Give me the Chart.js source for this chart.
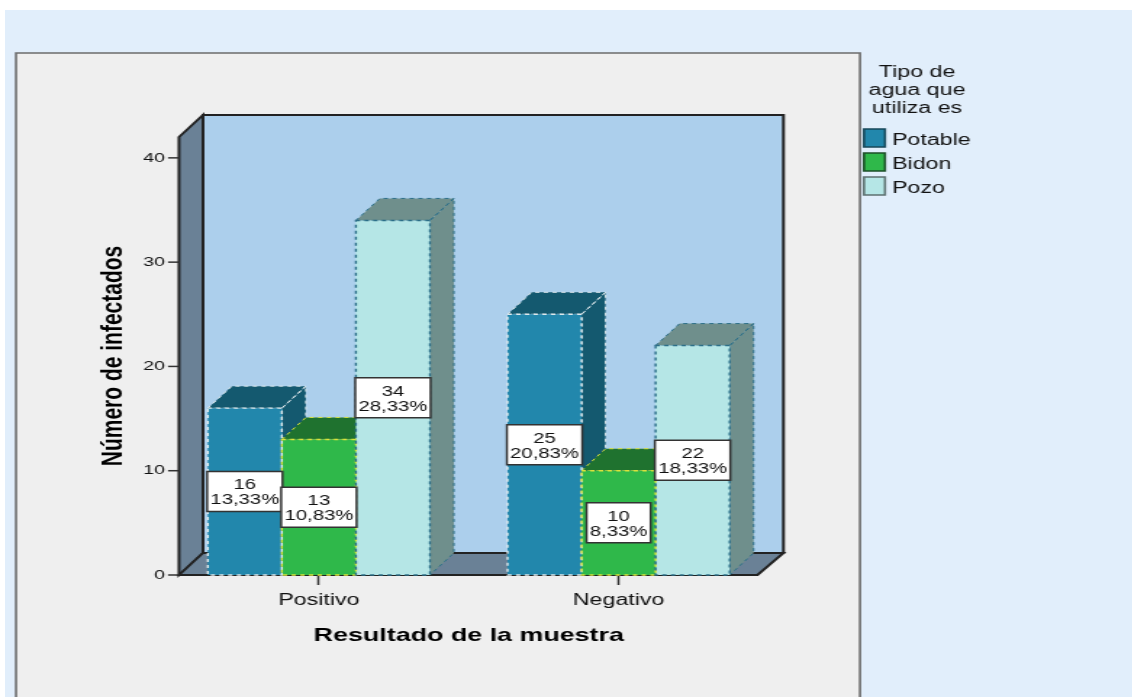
<!DOCTYPE html>
<html>
<head>
<meta charset="utf-8">
<title>Número de infectados</title>
<script src="https://cdn.jsdelivr.net/npm/chart.js@4/dist/chart.umd.min.js"></script>
<style>
    html, body { margin: 0; padding: 0; width: 1132px; height: 697px; overflow: hidden; background: #ffffff; }
    #page { position: absolute; left: 5px; top: 10px; right: 0; bottom: 0; background: #e1eefb; }
    #chart { position: absolute; left: 0; top: 0; transform-origin: 0 0; transform: scaleX(1.45); }
</style>
</head>
<body>
<div id="page"></div>
<canvas id="chart" width="781" height="697"></canvas>
<script>
const categories = ["Positivo", "Negativo"];
const seriesNames = ["Potable", "Bidon", "Pozo"];
const potable = [16, 25];
const bidon = [13, 10];
const pozo = [34, 22];
const potablePct = ["13,33%", "20,83%"];
const bidonPct = ["10,83%", "8,33%"];
const pozoPct = ["28,33%", "18,33%"];
const yTicks = [0, 10, 20, 30, 40];
const legendTitle = ["Tipo de", "agua que", "utiliza es"];

// everything is drawn narrow, the canvas gets stretched by css like the original picture
const SX = 1.45;
const px = v => v / SX;
const DX = px(24);
const DY = 22;

const frontColors = ["#2287ac", "#2fb84a", "#b5e6e6"];
const darkColors = ["#14596f", "#1f722f", "#6f8f8c"];
const edgeColors = ["#dfe9ec", "#dbe23c", "#2c6f88"];
const legendEdges = ["#17485a", "#1c4f28", "#5d7070"];
const percents = [potablePct, bidonPct, pozoPct];

function poly(ctx, pts, fill, stroke, width, dash) {
    ctx.save();
    ctx.beginPath();
    pts.forEach((p, i) => i ? ctx.lineTo(p[0], p[1]) : ctx.moveTo(p[0], p[1]));
    ctx.closePath();
    if (fill) {
        ctx.fillStyle = fill;
        ctx.fill();
    }
    if (stroke) {
        ctx.strokeStyle = stroke;
        ctx.lineWidth = width;
        ctx.setLineDash(dash || []);
        ctx.stroke();
    }
    ctx.restore();
}

const scene3d = {
    id: "scene3d",
    beforeDraw(chart) {
        const ctx = chart.ctx;
        // grey panel
        poly(ctx, [[px(16), 53], [px(860), 53], [px(860), 720], [px(16), 720]], "#efefef", "#6c6c6c", 1.6);

        const y = chart.scales.y;
        const area = chart.chartArea;
        const l = area.left + px(10);
        const r = area.right - px(11);
        const t = y.top;
        const b = y.bottom;

        // back wall, left wall, floor
        poly(ctx, [[l + DX, t - DY], [r + DX + px(2), t - DY], [r + DX + px(2), b - DY], [l + DX, b - DY]], "#accfec", "#222222", 2);
        poly(ctx, [[l, t], [l + DX, t - DY], [l + DX, b - DY], [l, b]], "#6a8196", "#222222", 2);
        poly(ctx, [[l, b], [l + DX, b - DY], [r + DX + px(2), b - DY], [r, b]], "#6a8196", "#222222", 2);

        // y tick marks
        ctx.save();
        ctx.strokeStyle = "#333333";
        ctx.lineWidth = 1.5;
        yTicks.forEach(v => {
            const yy = y.getPixelForValue(v);
            ctx.beginPath();
            ctx.moveTo(l - px(11), yy);
            ctx.lineTo(l, yy);
            ctx.stroke();
        });
        ctx.restore();
    },
    beforeDatasetsDraw(chart) {
        const ctx = chart.ctx;
        // tops and sides go first, left to right, the fronts cover them
        categories.forEach((c, i) => {
            chart.data.datasets.forEach((ds, s) => {
                const bar = chart.getDatasetMeta(s).data[i];
                const w = bar.width / 2;
                const x0 = bar.x - w;
                const x1 = bar.x + w;
                const dash = [3, 3];
                poly(ctx, [[x1, bar.y], [x1 + DX, bar.y - DY], [x1 + DX, bar.base - DY], [x1, bar.base]], darkColors[s], null);
                poly(ctx, [[x0, bar.y], [x0 + DX, bar.y - DY], [x1 + DX, bar.y - DY], [x1, bar.y]], darkColors[s], null);
                poly(ctx, [[x1, bar.y], [x1 + DX, bar.y - DY], [x1 + DX, bar.base - DY], [x1, bar.base]], null, edgeColors[s], 1, dash);
                poly(ctx, [[x0, bar.y], [x0 + DX, bar.y - DY], [x1 + DX, bar.y - DY], [x1, bar.y]], null, edgeColors[s], 1, dash);
            });
        });
    },
    afterDatasetsDraw(chart) {
        const ctx = chart.ctx;
        const y = chart.scales.y;

        // dashed front edges
        chart.data.datasets.forEach((ds, s) => {
            chart.getDatasetMeta(s).data.forEach(bar => {
                const w = bar.width / 2;
                poly(ctx, [[bar.x - w, bar.y], [bar.x + w, bar.y], [bar.x + w, bar.base], [bar.x - w, bar.base]], null, edgeColors[s], 1.4, [3, 3]);
            });
        });

        // value boxes in the middle of each bar
        ctx.save();
        ctx.font = "14px 'Liberation Sans'";
        ctx.textAlign = "center";
        ctx.textBaseline = "middle";
        chart.data.datasets.forEach((ds, s) => {
            chart.getDatasetMeta(s).data.forEach((bar, i) => {
                const cy = y.getPixelForValue(ds.data[i] / 2);
                const boxW = ctx.measureText(percents[s][i]).width + 4.5;
                poly(ctx, [[bar.x - boxW / 2, cy - 20], [bar.x + boxW / 2, cy - 20], [bar.x + boxW / 2, cy + 20], [bar.x - boxW / 2, cy + 20]], "#ffffff", "#333333", 1.5);
                ctx.fillStyle = "#111111";
                ctx.fillText(String(ds.data[i]), bar.x, cy - 6);
                ctx.fillText(percents[s][i], bar.x, cy + 9);
            });
        });
        ctx.restore();
    },
    afterDraw(chart) {
        const ctx = chart.ctx;
        // legend
        ctx.save();
        ctx.fillStyle = "#111111";
        ctx.font = "16px 'Liberation Sans'";
        ctx.textBaseline = "middle";
        ctx.textAlign = "center";
        const titleY = [73, 91, 109];
        legendTitle.forEach((line, i) => ctx.fillText(line, px(917), titleY[i]));
        ctx.textAlign = "left";
        const itemY = [138, 162, 186];
        seriesNames.forEach((name, i) => {
            const yy = itemY[i];
            poly(ctx, [[px(864), yy - 9], [px(885), yy - 9], [px(885), yy + 9], [px(864), yy + 9]], frontColors[i], legendEdges[i], 1.6);
            ctx.fillStyle = "#111111";
            ctx.fillText(name, px(892), yy + 3);
        });
        ctx.restore();
    }
};

const ctx = document.getElementById("chart").getContext("2d");
new Chart(ctx, {
    type: "bar",
    data: {
        labels: categories,
        datasets: [
            { label: seriesNames[0], data: potable, backgroundColor: frontColors[0] },
            { label: seriesNames[1], data: bidon, backgroundColor: frontColors[1] },
            { label: seriesNames[2], data: pozo, backgroundColor: frontColors[2] }
        ]
    },
    options: {
        responsive: false,
        animation: false,
        devicePixelRatio: 1,
        layout: { padding: { top: 137, right: px(1132 - 768), left: 0, bottom: 0 } },
        datasets: { bar: { categoryPercentage: 0.741, barPercentage: 1 } },
        plugins: { legend: { display: false }, tooltip: { enabled: false } },
        scales: {
            x: {
                afterFit(scale) { scale.height = 122; },
                border: { display: false },
                grid: { drawOnChartArea: false, offset: false, tickLength: 10, tickWidth: 1.5, tickColor: "#333333" },
                ticks: { color: "#111111", maxRotation: 0, padding: 6, font: { family: "'Liberation Sans'", size: 16 } },
                title: {
                    display: true,
                    text: "Resultado de la muestra",
                    color: "#000000",
                    padding: { top: 0, bottom: 50 },
                    font: { family: "'Liberation Sans'", size: 18.5, weight: "bold" }
                }
            },
            y: {
                min: 0,
                max: 42,
                afterFit(scale) { scale.width = px(169); },
                border: { display: false },
                grid: { display: false, drawTicks: false, tickLength: 0 },
                ticks: { stepSize: 10, includeBounds: false, color: "#111111", padding: px(4), font: { family: "'Liberation Sans'", size: 13.5 } },
                title: {
                    display: true,
                    text: "Número de infectados",
                    color: "#000000",
                    padding: { top: 66, bottom: 0 },
                    font: { family: "'Liberation Sans'", size: 21, weight: "bold" }
                }
            }
        }
    },
    plugins: [scene3d]
});
</script>
</body>
</html>
